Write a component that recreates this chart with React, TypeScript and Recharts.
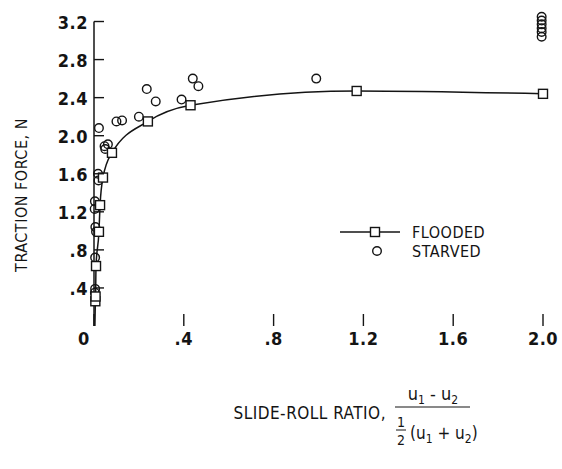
import { ComposedChart, Line, Scatter, XAxis, YAxis, ReferenceLine, Legend } from 'recharts'

// flooded curve (squares joined by a smooth line), first point is the curve start with no marker
const floodedRatio = [0.004, 0.006, 0.007, 0.009, 0.022, 0.027, 0.04, 0.08, 0.24, 0.43, 1.17, 2.0]
const floodedForce = [0, 0.26, 0.31, 0.63, 0.99, 1.27, 1.56, 1.82, 2.15, 2.32, 2.47, 2.44]

// starved points (open circles)
const starvedRatio = [
  0.004, 0.005, 0.005, 0.009, 0.006, 0.003, 0.004, 0.02, 0.018, 0.022, 0.047, 0.062, 0.05, 0.1, 0.125, 0.2,
  0.235, 0.275, 0.39, 0.44, 0.465, 0.99, 1.994, 1.994, 1.994, 1.994, 1.994, 1.994,
]
const starvedForce = [
  0.35, 0.39, 0.72, 0.99, 1.04, 1.23, 1.31, 1.53, 1.6, 2.08, 1.89, 1.91, 1.86, 2.15, 2.16, 2.2, 2.49, 2.36,
  2.38, 2.6, 2.52, 2.6, 3.04, 3.09, 3.13, 3.17, 3.21, 3.25,
]

const xTicks = [0, 0.4, 0.8, 1.2, 1.6, 2.0]
const xTickLabels = ['0', '.4', '.8', '1.2', '1.6', '2.0']
const yTicks = [0.4, 0.8, 1.2, 1.6, 2.0, 2.4, 2.8, 3.2]
const yTickLabels = ['.4', '.8', '1.2', '1.6', '2.0', '2.4', '2.8', '3.2']

const flooded = floodedRatio.map((x, i) => ({ x, y: floodedForce[i] }))
const starved = starvedRatio.map((x, i) => ({ x, y: starvedForce[i] }))

const ink = '#141414'
const font = '"DejaVu Sans Condensed", "DejaVu Sans", sans-serif'

const labelFor = (ticks: number[], labels: string[], v: number) =>
  labels[ticks.findIndex((t) => Math.abs(t - v) < 1e-6)] ?? ''

function XTick({ x, y, payload }: any) {
  const label = labelFor(xTicks, xTickLabels, payload.value)
  return (
    <g>
      <line x1={x} x2={x} y1={y - 12} y2={y} stroke={ink} strokeWidth={1.4} />
      <text
        x={label === '0' ? x - 10 : x}
        y={y + 19}
        textAnchor="middle"
        fontFamily={font}
        fontWeight="bold"
        fontSize={18}
        fill={ink}
        letterSpacing={0.5}
      >
        {label}
      </text>
    </g>
  )
}

function YTick({ x, y, payload }: any) {
  return (
    <g>
      <line x1={x} x2={x + 10} y1={y} y2={y} stroke={ink} strokeWidth={1.4} />
      <text
        x={x - 6}
        y={y + 7}
        textAnchor="end"
        fontFamily={font}
        fontWeight="bold"
        fontSize={18}
        fill={ink}
        letterSpacing={0.5}
      >
        {labelFor(yTicks, yTickLabels, payload.value)}
      </text>
    </g>
  )
}

const squareDot = (props: any) => {
  const { cx, cy, index } = props
  if (index === 0) return <g key={`sq-${index}`} />
  return (
    <rect
      key={`sq-${index}`}
      x={cx - 4.5}
      y={cy - 4.5}
      width={9}
      height={9}
      fill="#fff"
      stroke={ink}
      strokeWidth={1.4}
    />
  )
}

const circleShape = (props: any) => (
  <circle cx={props.cx} cy={props.cy} r={4.3} fill="none" stroke={ink} strokeWidth={1.4} />
)

function LegendBox() {
  return (
    <svg width={170} height={44} style={{ display: 'block' }}>
      <line x1={0} x2={60} y1={12} y2={12} stroke={ink} strokeWidth={1.4} />
      <rect x={30.5} y={7.5} width={9} height={9} fill="#fff" stroke={ink} strokeWidth={1.4} />
      <circle cx={37} cy={31} r={4.3} fill="none" stroke={ink} strokeWidth={1.4} />
      <text x={72} y={18} fontFamily={font} fontSize={16} fill={ink} letterSpacing={0.5}>
        FLOODED
      </text>
      <text x={72} y={37} fontFamily={font} fontSize={16} fill={ink} letterSpacing={0.5}>
        STARVED
      </text>
    </svg>
  )
}

export default function App() {
  return (
    <div style={{ position: 'absolute', left: 0, top: 0, width: 562, height: 469, background: '#fff' }}>
      <ComposedChart width={562} height={469} margin={{ top: 12, right: 19, bottom: 69, left: 0 }}>
        <XAxis
          dataKey="x"
          type="number"
          domain={[0, 2]}
          ticks={xTicks}
          interval={0}
          axisLine={false}
          tickLine={false}
          tickSize={0}
          tickMargin={0}
          height={30}
          tick={<XTick />}
        />
        <YAxis
          dataKey="y"
          type="number"
          domain={[0, 3.3]}
          ticks={yTicks}
          interval={0}
          axisLine={false}
          tickLine={false}
          tickSize={0}
          tickMargin={0}
          width={94}
          tick={<YTick />}
        />
        <ReferenceLine
          segment={[
            { x: 0, y: 0 },
            { x: 0, y: 3.2 },
          ]}
          stroke={ink}
          strokeWidth={1.5}
        />
        <Line
          data={flooded}
          dataKey="y"
          type="monotone"
          stroke={ink}
          strokeWidth={1.5}
          dot={squareDot}
          activeDot={false}
          isAnimationActive={false}
        />
        <Scatter data={starved} dataKey="y" shape={circleShape} isAnimationActive={false} />
        <Legend
          content={() => <LegendBox />}
          wrapperStyle={{ position: 'absolute', left: 340, top: 220, width: 170 }}
        />
      </ComposedChart>
      <svg
        width={562}
        height={469}
        style={{ position: 'absolute', left: 0, top: 0, pointerEvents: 'none' }}
      >
        <text
          transform="translate(27 195) rotate(-90)"
          textAnchor="middle"
          fontFamily={font}
          fontSize={16}
          fill={ink}
          letterSpacing={0.5}
        >
          TRACTION FORCE, N
        </text>
        <text x={386} y={419} textAnchor="end" fontFamily={font} fontSize={17} fill={ink} letterSpacing={0.5}>
          SLIDE-ROLL RATIO,
        </text>
        <text x={433} y={400} textAnchor="middle" fontFamily={font} fontSize={18} fill={ink}>
          <tspan>u</tspan>
          <tspan fontSize={12} dy={4}>1</tspan>
          <tspan dy={-4}> - u</tspan>
          <tspan fontSize={12} dy={4}>2</tspan>
        </text>
        <line x1={395} x2={470} y1={407} y2={407} stroke={ink} strokeWidth={1.2} />
        <text x={401} y={427} textAnchor="middle" fontFamily={font} fontSize={14} fill={ink}>
          1
        </text>
        <line x1={396} x2={406} y1={430} y2={430} stroke={ink} strokeWidth={1} />
        <text x={401} y={445} textAnchor="middle" fontFamily={font} fontSize={14} fill={ink}>
          2
        </text>
        <text x={410} y={439} fontFamily={font} fontSize={17} fill={ink}>
          <tspan>(u</tspan>
          <tspan fontSize={12} dy={4}>1</tspan>
          <tspan dy={-4}> + u</tspan>
          <tspan fontSize={12} dy={4}>2</tspan>
          <tspan dy={-4}>)</tspan>
        </text>
      </svg>
    </div>
  )
}
